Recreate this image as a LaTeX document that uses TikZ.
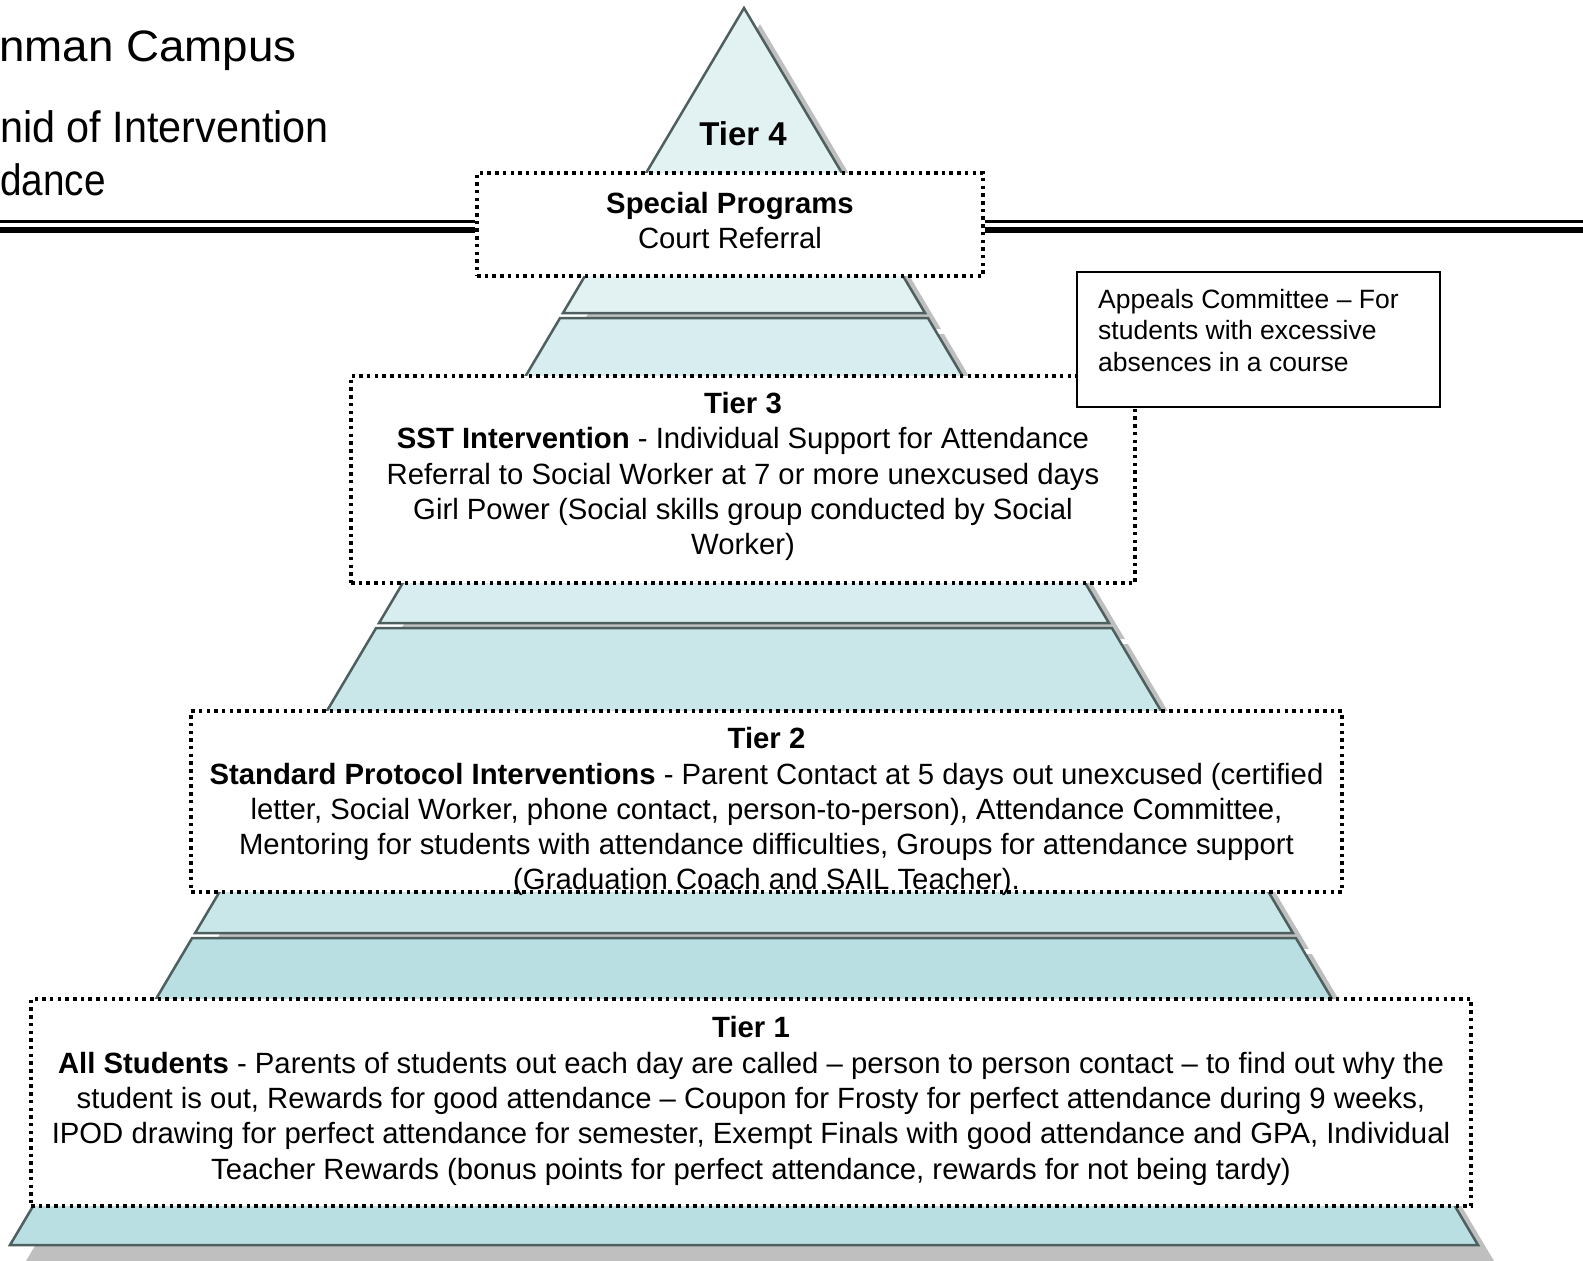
\documentclass[tikz,border=0pt]{standalone}
\usepackage{fontspec}
\setmainfont{Liberation Sans}
\definecolor{bandA}{HTML}{E2F2F3}
\definecolor{bandB}{HTML}{D8EDEF}
\definecolor{bandC}{HTML}{C9E7E9}
\definecolor{bandD}{HTML}{B9DFE2}
\definecolor{edge}{HTML}{4E5F5F}
\definecolor{shade}{HTML}{BFBFBF}
\begin{document}
\begin{tikzpicture}[x=1pt,y=-1pt,
  band/.style={draw=edge, line width=2.5pt, line join=miter},
  shadowband/.style={fill=shade, shift={(16,16)}},
  dotbox/.style={draw=black, fill=white, line width=3.2pt, dash pattern=on 3.5pt off 4.2pt, rectangle, inner sep=0pt},
  solidbox/.style={draw=black, fill=white, line width=2pt, rectangle, inner sep=0pt},
  body/.style={font=\fontsize{29.3}{35.3}\selectfont, align=center, inner sep=0pt},
  small/.style={font=\fontsize{26.5}{31.3}\selectfont, align=left, inner sep=0pt},
  title/.style={font=\fontsize{44}{52}\selectfont, inner sep=0pt},
  hthin/.style={line width=2.7pt, black},
  hthick/.style={line width=6.7pt, black}]
\useasboundingbox (0,0) rectangle (1583,1261);

% pyramid: shadow then band, top to bottom
\fill[shadowband] (744,8) -- (925,313) -- (563,313) -- cycle;
\filldraw[band, fill=bandA] (744,8) -- (925,313) -- (563,313) -- cycle;
\fill[shadowband] (560.06,318) -- (927.94,318) -- (1108.93,623) -- (379.07,623) -- cycle;
\filldraw[band, fill=bandB] (560.06,318) -- (927.94,318) -- (1108.93,623) -- (379.07,623) -- cycle;
\fill[shadowband] (376.11,628) -- (1111.89,628) -- (1292.87,933) -- (195.13,933) -- cycle;
\filldraw[band, fill=bandC] (376.11,628) -- (1111.89,628) -- (1292.87,933) -- (195.13,933) -- cycle;
\fill[shadowband] (192.16,938) -- (1295.84,938) -- (1478,1245) -- (10,1245) -- cycle;
\filldraw[band, fill=bandD] (192.16,938) -- (1295.84,938) -- (1478,1245) -- (10,1245) -- cycle;

% title (cut at the left edge)
\node[title, anchor=base west, xscale=1.04] (ttl1) at (-1,61) {nman Campus};
\node[title, anchor=base west, xscale=0.94] (ttl2) at (0,142) {nid of Intervention};
\node[title, anchor=base west, xscale=0.88] (ttl3) at (0,195) {dance};

% boxes
\node[dotbox, minimum width=506pt, minimum height=103pt] (sp) at (730,224.5) {};
\coordinate (hl1) at (0,221.3);
\coordinate (hl2) at (0,230);
\coordinate (hr1) at (1583,221.3);
\coordinate (hr2) at (1583,230);
\draw[hthin] (hl1) -- (hl1 -| sp.west);
\draw[hthick] (hl2) -- (hl2 -| sp.west);
\draw[hthin] (hr1 -| sp.east) -- (hr1);
\draw[hthick] (hr2 -| sp.east) -- (hr2);
\node[dotbox, minimum width=506pt, minimum height=103pt] (sp2) at (730,224.5) {};

\node[dotbox, minimum width=784pt, minimum height=207pt] (t3) at (743,479.5) {};
\node[dotbox, minimum width=1151pt, minimum height=181pt] (t2) at (766.5,801.5) {};
\node[dotbox, minimum width=1440pt, minimum height=207pt] (t1) at (751,1102.5) {};
\node[solidbox, minimum width=363pt, minimum height=135pt] (ap) at (1258.5,339.5) {};

% texts
\node[font=\fontsize{33}{38}\selectfont\bfseries, inner sep=0pt, anchor=base] (t4lbl) at (743,145) {Tier 4};
\node[body, anchor=north] (sptxt) at (730,192) {\textbf{Special Programs}\\Court Referral};
\node[body, anchor=north] (t3txt) at (743,392) {\textbf{Tier 3}\\\textbf{SST Intervention} - Individual Support for Attendance\\Referral to Social Worker at 7 or more unexcused days\\Girl Power (Social skills group conducted by Social\\Worker)};
\node[body, anchor=north] (t2txt) at (766.5,727.3) {\textbf{Tier 2}\\\textbf{Standard Protocol Interventions} - Parent Contact at 5 days out unexcused (certified\\letter, Social Worker, phone contact, person-to-person), Attendance Committee,\\Mentoring for students with attendance difficulties, Groups for attendance support\\(Graduation Coach and SAIL Teacher).};
\node[body, anchor=north] (t1txt) at (751,1016.5) {\textbf{Tier 1}\\\textbf{All Students} - Parents of students out each day are called -- person to person contact -- to find out why the\\student is out, Rewards for good attendance -- Coupon for Frosty for perfect attendance during 9 weeks,\\IPOD drawing for perfect attendance for semester, Exempt Finals with good attendance and GPA, Individual\\Teacher Rewards (bonus points for perfect attendance, rewards for not being tardy)};
\node[small, anchor=north west] (aptxt) at (1098,289) {Appeals Committee -- For\\students with excessive\\absences in a course};
\end{tikzpicture}
\end{document}
